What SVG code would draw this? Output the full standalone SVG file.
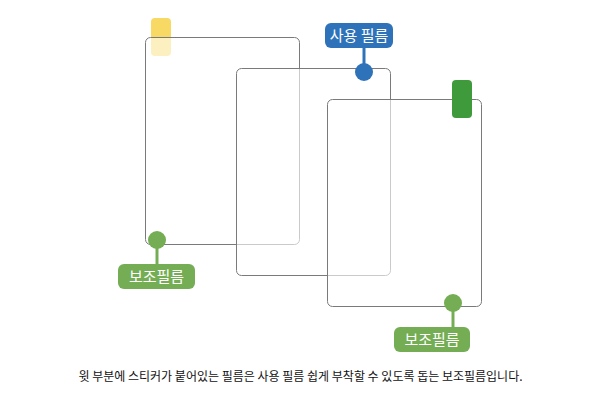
<svg xmlns="http://www.w3.org/2000/svg" width="600" height="400" viewBox="0 0 600 400">
<style>
.film{fill:#ffffff;fill-opacity:0.6;stroke:#7a7a7a;stroke-width:1}
.lbl{font-family:"Noto Sans CJK KR","Noto Sans",sans-serif;font-size:15px;fill:#ffffff;text-anchor:middle}
.cap{font-family:"Noto Sans CJK KR","Noto Sans",sans-serif;font-size:12px;fill:#111111;text-anchor:middle}
.blue{fill:#2E72B9}
.green{fill:#74AD54}
</style>
<rect width="600" height="400" fill="#ffffff"/>
<g id="film1">
<rect x="151" y="18" width="20" height="38" rx="4" fill="#F7D964"/>
<rect class="film" x="145.5" y="37.5" width="154" height="207" rx="5"/>
</g>
<g id="film2">
<rect class="film" x="236.5" y="68.5" width="154" height="207" rx="5"/>
</g>
<g id="film3">
<rect class="film" x="327.5" y="99.5" width="154" height="207" rx="5"/>
<rect x="452" y="80" width="20" height="38" rx="4" fill="#3E9A3A"/>
</g>
<g id="connectors">
<line x1="364" y1="46" x2="364" y2="72" stroke="#2E72B9" stroke-width="3"/>
<line x1="157" y1="240" x2="157" y2="266" stroke="#74AD54" stroke-width="3"/>
<line x1="453" y1="303" x2="453" y2="329" stroke="#74AD54" stroke-width="3"/>
</g>
<g id="label-use">
<rect class="blue" x="325" y="23" width="68" height="25" rx="6"/>
<text class="lbl" x="359" y="41">사용 필름</text>
<circle class="blue" cx="364" cy="72" r="9"/>
</g>
<g id="label-aux1">
<circle class="green" cx="157" cy="240" r="9"/>
<rect class="green" x="118" y="264" width="77" height="25" rx="6"/>
<text class="lbl" x="156.5" y="282">보조필름</text>
</g>
<g id="label-aux2">
<circle class="green" cx="453" cy="303" r="9"/>
<rect class="green" x="394" y="327" width="76" height="25" rx="6"/>
<text class="lbl" x="432" y="345">보조필름</text>
</g>
<g id="caption">
<text class="cap" x="300.5" y="381">윗 부분에 스티커가 붙어있는 필름은 사용 필름 쉽게 부착할 수 있도록 돕는 보조필름입니다.</text>
</g>
</svg>
